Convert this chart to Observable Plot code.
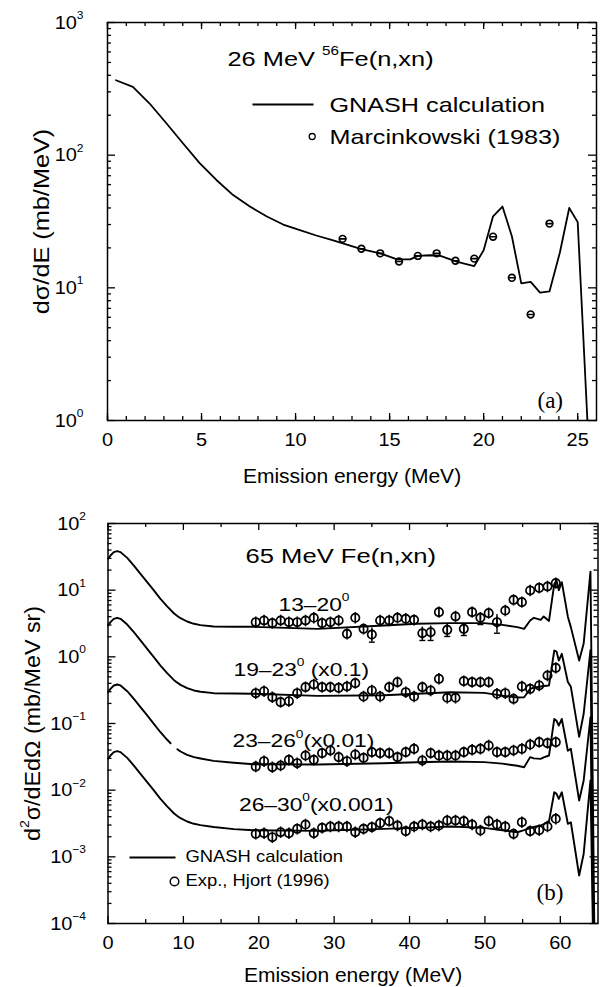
<!DOCTYPE html>
<html><head><meta charset="utf-8">
<script src="https://cdn.jsdelivr.net/npm/d3@7"></script>
<script src="https://cdn.jsdelivr.net/npm/@observablehq/plot@0.6"></script>
<style>
body{margin:0;background:#fff;}
#chart{width:601px;}
#chart svg{display:block;}
</style></head><body><div id="chart"></div>
<script>
// ---------------- Panel (a): 26 MeV 56Fe(n,xn) ----------------
const aCalcE = [0.45,1.35,2.24,3.13,4.01,4.9,5.79,6.68,7.57,8.45,9.34,10.23,11.1,12.0,13.5,14.5,15.4,16.1,16.5,17.15,17.7,18.6,19.5,20.0,20.5,21.0,21.5,22.0,22.5,23.0,23.5,24.05,24.55,25.0,25.55];
const aCalcV = [367,327,245,174,123,87,65,50,41,34.6,30,27.2,24.8,22.8,19.6,18.2,16.4,16.4,17.4,17.6,17.4,15.7,14.6,19.2,34.6,41,24.5,10.8,11.1,9.2,9.4,18.4,40,31.3,0.8];
const aExpE = [12.5,13.5,14.5,15.5,16.5,17.5,18.5,19.5,20.5,21.5,22.5,23.5];
const aExpV = [23.4,19.7,18.2,15.8,17.4,18.2,16.0,16.6,24.3,11.9,6.3,30.5];
const aXMajor = [0,5,10,15,20,25];
const aXMinor = d3.range(0,26);
const aYDecades = [1,10,100,1000];

// ---------------- Panel (b): 65 MeV Fe(n,xn) ----------------
const bCalcE = [0,0.33,0.77,1.22,1.66,2.55,3.43,4.31,5.2,6.08,6.96,7.85,8.3,8.73,9.2,9.62,10.5,11.4,12.27,14.0,16.7,19.3,27.8,36.6,41.0,45.4,49.9,52.3,54.3,55.2,56.0,56.5,57.4,57.8,58.5,59.2,59.5,59.8,60.2,61.0,61.4,62.5,63.1,64.0,64.6];
const bCalc13 = [29.5,33.1,37.2,38.5,37.2,30.5,23.4,17.6,13.2,9.9,7.4,5.7,5.05,4.5,4.1,3.8,3.39,3.13,2.99,2.85,2.82,2.82,2.63,2.95,3.13,3.2,3.2,3.02,2.79,2.63,3.5,3.85,3.59,4.03,3.45,12.4,14.0,10.0,13.2,4.0,2.79,0.88,1.58,19,1e-5];
const bCalc19 = [2.95,3.31,3.72,3.85,3.72,3.05,2.34,1.76,1.32,0.99,0.74,0.57,0.505,0.45,0.41,0.38,0.339,0.313,0.299,0.285,0.282,0.279,0.26,0.265,0.279,0.295,0.288,0.262,0.245,0.248,0.331,0.345,0.359,0.365,0.372,1.245,1.2,0.88,1.11,0.42,0.355,0.063,0.14,1.26,1e-6];
const bCalc23 = [0.295,0.331,0.372,0.385,0.372,0.305,0.234,0.176,0.132,0.099,0.074,0.057,0.0505,null,0.041,0.038,0.0339,0.0313,0.0299,0.0275,0.0258,0.0245,0.0243,0.0254,0.0262,0.0269,0.0263,0.025,0.0232,0.0221,0.0313,0.030,0.0295,0.031,0.0331,0.117,0.11,0.093,0.117,0.039,0.0417,0.007,0.014,0.124,1e-6];
const bCalc26 = [0.0295,0.0331,0.0372,0.0385,0.0372,0.0305,0.0234,0.0176,0.0132,0.0099,0.0074,0.0057,0.00505,0.0045,0.0041,0.0038,0.00339,0.00313,0.00299,0.0028,0.0026,0.0025,0.00245,0.00263,0.00272,0.00285,0.00272,0.0025,0.00234,0.00251,0.0027,0.0028,0.00295,0.0031,0.0034,0.0093,0.0088,0.0074,0.0093,0.00313,0.0033,0.000525,0.00111,0.014,1e-6];

const bExpE = [19.6,20.7,21.8,22.9,24.0,25.1,26.2,27.3,28.4,29.5,30.6,31.7,32.8,33.9,35.0,36.1,37.3,38.4,39.5,40.6,41.7,42.8,43.9,45.0,46.1,47.2,48.3,49.4,50.5,51.6,52.7,53.8,54.9,56.0,57.2,58.3,59.4];
const bExp13 = [3.31,3.51,3.20,3.51,3.31,3.31,3.51,3.85,3.20,3.31,3.51,2.21,3.85,2.63,2.16,3.51,3.51,3.85,3.72,3.59,2.26,2.34,4.68,2.54,4.03,2.63,4.68,3.85,4.52,3.31,4.95,7.16,6.61,9.89,10.84,11.35,12.74];
const bExp19 = [0.285,0.305,0.248,0.209,0.216,0.285,0.351,0.385,0.351,0.351,0.343,0.359,0.403,0.254,0.313,0.254,0.351,0.417,0.295,0.254,0.351,0.313,0.468,0.243,0.243,0.432,0.417,0.417,0.417,0.279,0.285,0.234,0.359,0.331,0.372,0.525,0.684];
const bExp23 = [0.0226,0.0272,0.0221,0.0234,0.0285,0.0254,0.0331,0.0285,0.0359,0.0394,0.0313,0.0272,0.0343,0.0305,0.0372,0.0359,0.0359,0.0313,0.0372,0.0417,0.0279,0.0359,0.0331,0.0331,0.0331,0.0372,0.0403,0.0417,0.0468,0.0372,0.0372,0.0394,0.0417,0.0484,0.0525,0.0507,0.0525];
const bExp26 = [0.00221,0.00226,0.00197,0.00234,0.00226,0.00263,0.00305,0.00226,0.00272,0.00285,0.00285,0.00285,0.00234,0.00263,0.00279,0.0032,0.00343,0.00295,0.00243,0.00285,0.00305,0.00285,0.00295,0.00351,0.00351,0.00343,0.00305,0.00248,0.00343,0.00305,0.00285,0.00221,0.00331,0.00243,0.00251,0.00285,0.00372];
// visible error bars of the 13-20 deg set
const bErrE  = [35.0,41.7,42.8,45.0,47.2,49.4,51.6];
const bErrLo = [1.66,1.76,1.76,2.02,2.09,3.05,2.26];
const bErrHi = [2.7,2.8,2.9,3.05,3.15,4.6,4.3];

const bXMajor = [0,10,20,30,40,50,60];
const bXMinor = [5,15,25,35,45,55];
const bYDecades = [1e-4,1e-3,1e-2,1e-1,1,10,100];

const minorOf = (decs) => decs.slice(0,-1).flatMap(d => [2,3,4,5,6,7,8,9].map(m => m*d));

// ---------------- helpers ----------------
const SANS = "'Liberation Sans', Arial, Helvetica, sans-serif";
const SERIF = "'Liberation Serif', 'Times New Roman', serif";
const pow10 = d => { const e = Math.round(Math.log10(d)); return "10^{" + (e < 0 ? "\u2212" + (-e) : e) + "}"; };
const ringSym = (bar) => ({draw(ctx, size) {
  const r = Math.sqrt(size/Math.PI);
  ctx.moveTo(r,0); ctx.arc(0,0,r,0,2*Math.PI);
  if (bar === "h") { ctx.moveTo(-r,0); ctx.lineTo(r,0); }
  if (bar === "v") { ctx.moveTo(0,-r-1.5); ctx.lineTo(0,r+1.5); }
}});
const hline = (len) => ({draw(ctx) { ctx.moveTo(-len/2,0); ctx.lineTo(len/2,0); }});

// frame first, then inward ticks: rules inset so only a short piece at each edge remains
function frameAxes(W, H, xMaj, xMin, yDec, yPad) {
  const yMin = minorOf(yDec);
  const T = {stroke: "black", strokeWidth: 1.3};
  const xt = (ticks, edge, len) => Plot.ruleX(ticks, {x: d => d, [edge === "bottom" ? "insetTop" : "insetBottom"]: H - len, ...T});
  const yt = (ticks, edge, len) => Plot.ruleY(ticks, {y: d => d, [edge === "left" ? "insetRight" : "insetLeft"]: W - len, ...T});
  return [
    Plot.frame({fill: "none", stroke: "black", strokeWidth: 1.5}),
    xt(xMaj, "bottom", 7), xt(xMin, "bottom", 4), xt(xMaj, "top", 7), xt(xMin, "top", 4),
    yt(yDec, "left", 8), yt(yMin, "left", 4), yt(yDec, "right", 8), yt(yMin, "right", 4),
    Plot.axisX({anchor:"bottom", ticks:xMaj, tickSize:0, tickPadding:12, tickFormat: d => String(d), label:null, fontSize:19, fontFamily:SANS, fill:"black"}),
    Plot.axisY({anchor:"left", ticks:yDec, tickSize:0, tickPadding:yPad, tickFormat:pow10, label:null, fontSize:19, fontFamily:SANS, fill:"black"})
  ];
}
const note = (txt, dx, dy, size, opts = {}) =>
  Plot.text([txt], {text: d => d, frameAnchor:"top-left", dx, dy, textAnchor:"start", lineAnchor:"bottom",
                    fontSize:size, fontFamily:SANS, fill:"black", ...opts});

function finish(svg, stretch) {
  for (const t of svg.querySelectorAll("text")) {
    const raw = t.textContent;
    const fs = parseFloat(getComputedStyle(t).fontSize) || 19;
    if (raw.includes("^{")) {
      t.textContent = "";
      let raised = false;
      for (const p of raw.split(/(\^\{[^}]*\})/)) {
        if (!p) continue;
        const ts = document.createElementNS("http://www.w3.org/2000/svg", "tspan");
        if (p.startsWith("^{")) {
          ts.textContent = p.slice(2,-1);
          ts.setAttribute("font-size", (0.6*fs).toFixed(1));
          ts.setAttribute("dy", (-0.5*fs).toFixed(1));
          raised = true;
        } else {
          ts.textContent = p;
          if (raised) { ts.setAttribute("dy", (0.5*fs).toFixed(1)); raised = false; }
        }
        t.appendChild(ts);
      }
    }
    let s = stretch[raw];
    const g = t.closest("g[aria-label]");
    if (s === undefined && g && /tick label/.test(g.getAttribute("aria-label"))) s = stretch.__ticks;
    if (s && s !== 1) {
      let tr = t.getAttribute("transform");
      if (!tr) {
        const x = parseFloat(t.getAttribute("x")) || 0;
        tr = `translate(${x},0)`; t.removeAttribute("x");
      }
      t.setAttribute("transform", tr + ` scale(${s},1)`);
    }
  }
}

// ---------------- panel (a) ----------------
const curveA = aCalcE.map((E,i) => ({E, v: aCalcV[i]}));
const expA = aExpE.map((E,i) => ({E, v: aExpV[i]}));
const svgA = Plot.plot({
  width: 601, height: 495,
  marginTop: 22, marginBottom: 75, marginLeft: 107, marginRight: 5,
  style: {fontFamily: SANS, fontSize: "19px", color: "black", background: "white"},
  x: {domain: [0, 26], label: null},
  y: {type: "log", domain: [1, 1000], label: null},
  marks: [
    ...frameAxes(489, 398, aXMajor, aXMinor, aYDecades, 24),
    Plot.line(curveA, {x: "E", y: "v", stroke: "black", strokeWidth: 1.8, clip: true}),
    Plot.dot(expA, {x: "E", y: "v", r: 3.4, symbol: ringSym("h"), fill: "none", stroke: "black", strokeWidth: 1.6}),
    note("26 MeV ^{56}Fe(n,xn)", 120, 43, 21),
    Plot.dot([0], {frameAnchor: "top-left", dx: 175.5, dy: 82, symbol: hline(61), stroke: "black", strokeWidth: 1.8}),
    note("GNASH calculation", 222, 89.7, 20),
    Plot.dot([0], {frameAnchor: "top-left", dx: 204.7, dy: 114, r: 3, symbol: ringSym(""), fill: "none", stroke: "black", strokeWidth: 1.3}),
    note("Marcinkowski (1983)", 222, 121, 20),
    note("(a)", 430, 385, 23, {fontFamily: SERIF}),
    Plot.text(["Emission energy (MeV)"], {text: d => d, frameAnchor: "bottom", dy: 62.7, textAnchor: "middle", lineAnchor: "bottom", fontSize: 21, fontFamily: SANS, fill: "black"}),
    Plot.text(["d\u03C3/dE (mb/MeV)"], {text: d => d, frameAnchor: "left", dx: -59, rotate: -90, textAnchor: "middle", lineAnchor: "bottom", fontSize: 22, fontFamily: SANS, fill: "black"})
  ]
});

// ---------------- panel (b) ----------------
const seriesNames = ["13-20", "19-23", "23-26", "26-30"];
const calcB = [bCalc13, bCalc19, bCalc23, bCalc26].flatMap((arr, k) => bCalcE.map((E,i) => ({E, v: arr[i], s: seriesNames[k]})));
const expB = [bExp13, bExp19, bExp23, bExp26].flatMap((arr, k) => bExpE.map((E,i) => ({E, v: arr[i], s: seriesNames[k]})));
const errB = bErrE.map((E,i) => ({E, lo: bErrLo[i], hi: bErrHi[i]}));
const svgB = Plot.plot({
  width: 601, height: 492,
  marginTop: 28, marginBottom: 64, marginLeft: 107.5, marginRight: 3.5,
  style: {fontFamily: SANS, fontSize: "19px", color: "black", background: "white"},
  x: {domain: [0, 65], label: null},
  y: {type: "log", domain: [1e-4, 100], label: null},
  marks: [
    ...frameAxes(490, 400, bXMajor, bXMinor, bYDecades, 22),
    Plot.line(calcB, {x: "E", y: "v", z: "s", stroke: "black", strokeWidth: 1.9, clip: true}),
    Plot.ruleX(errB, {x: "E", y1: "lo", y2: "hi", stroke: "black", strokeWidth: 1.4}),
    Plot.dot(errB, {x: "E", y: "lo", symbol: hline(6), stroke: "black", strokeWidth: 1.4}),
    Plot.dot(expB, {x: "E", y: "v", r: 4.2, symbol: ringSym("v"), fill: "none", stroke: "black", strokeWidth: 1.7}),
    note("65 MeV Fe(n,xn)", 137.5, 39, 20),
    note("13\u201320^{0}", 170.5, 87, 19),
    note("19\u201323^{0} (x0.1)", 125.5, 152, 19),
    note("23\u201326^{0}(x0.01)", 124.5, 223.7, 19),
    note("26\u201330^{0}(x0.001)", 131, 287, 19),
    Plot.dot([0], {frameAnchor: "top-left", dx: 44.5, dy: 334, symbol: hline(46), stroke: "black", strokeWidth: 1.9}),
    note("GNASH calculation", 77.5, 338.7, 16),
    Plot.dot([0], {frameAnchor: "top-left", dx: 66.5, dy: 358, r: 4.3, symbol: ringSym(""), fill: "none", stroke: "black", strokeWidth: 1.5}),
    note("Exp., Hjort (1996)", 77.5, 362, 16),
    note("(b)", 428.5, 376.3, 23, {fontFamily: SERIF}),
    Plot.text(["Emission energy (MeV)"], {text: d => d, frameAnchor: "bottom", dy: 58.7, textAnchor: "middle", lineAnchor: "bottom", fontSize: 21, fontFamily: SANS, fill: "black"}),
    Plot.text(["d^{2}\u03C3/dEd\u03A9 (mb/MeV sr)"], {text: d => d, frameAnchor: "left", dx: -68.5, rotate: -90, textAnchor: "middle", lineAnchor: "bottom", fontSize: 22, fontFamily: SANS, fill: "black"})
  ]
});

const host = document.getElementById("chart");
host.append(svgA, svgB);
finish(svgA, {
  "26 MeV ^{56}Fe(n,xn)": 1.21, "GNASH calculation": 1.26, "Marcinkowski (1983)": 1.26,
  "d\u03C3/dE (mb/MeV)": 1.15, __ticks: 1.05
});
finish(svgB, {
  "65 MeV Fe(n,xn)": 1.28, "13\u201320^{0}": 1.2, "19\u201323^{0} (x0.1)": 1.2, "23\u201326^{0}(x0.01)": 1.2,
  "26\u201330^{0}(x0.001)": 1.2, "GNASH calculation": 1.15, "Exp., Hjort (1996)": 1.15,
  "d^{2}\u03C3/dEd\u03A9 (mb/MeV sr)": 1.06, __ticks: 1.05
});
</script></body></html>
